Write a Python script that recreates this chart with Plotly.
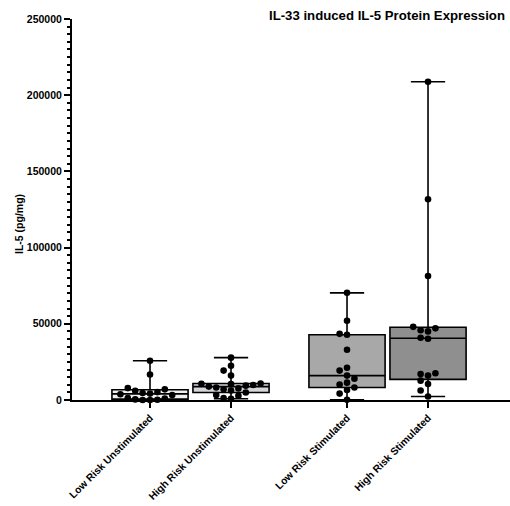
import numpy as np
import plotly.graph_objects as go

# IL-5 protein (pg/mg) per sample, by risk group and stimulation
groups = ["Low Risk Unstimulated", "High Risk Unstimulated",
          "Low Risk Stimulated", "High Risk Stimulated"]

low_risk_unstim = [0, 0, 200, 400, 1000, 1200, 3200, 3800, 4200, 4600,
                   5200, 6000, 7000, 7800, 16700, 25800]
high_risk_unstim = [800, 1200, 2800, 3200, 4900, 6200, 7000, 7600, 8200,
                    8800, 9400, 9800, 10400, 10600, 10800, 16000, 19300,
                    22500, 27800]
low_risk_stim = [200, 4200, 6600, 8200, 10200, 11400, 14000, 16000,
                 19300, 21200, 33000, 42800, 43400, 52000, 70300]
high_risk_stim = [2300, 6200, 10500, 12700, 16000, 17000, 17600, 40200,
                  40800, 45000, 45800, 47000, 48000, 81400, 131700, 208800]

series = [low_risk_unstim, high_risk_unstim, low_risk_stim, high_risk_stim]
fills = ["#f1f1f1", "#d3d5d8", "#a8a8a8", "#8f8f8f"]

# x layout: two pairs of boxes with a wider gap between the pairs
pair_gap = 0.432
positions = [1, 2, 2 + 1 + pair_gap, 3 + 1 + pair_gap]
x_range = [0.037, positions[-1] + 1.012]
y_range = [0, 250000]

W, H = 510, 506
M = dict(l=72, r=0, t=19, b=106)
plot_w = W - M["l"] - M["r"]
plot_h = H - M["t"] - M["b"]
px_x = plot_w / (x_range[1] - x_range[0])
px_y = plot_h / (y_range[1] - y_range[0])


def swarm_offsets(vals, diam=6.4, step=7.4):
    """Spread overlapping points sideways (beeswarm), in x data units."""
    vals = np.asarray(vals, dtype=float)
    order = np.argsort(vals)
    placed = []
    offs = np.zeros(len(vals))
    for i in order:
        y = vals[i] * px_y
        for k in [0, -1, 1, -2, 2, -3, 3, -4, 4, -5, 5]:
            x = k * step
            if all((x - a) ** 2 + (y - b) ** 2 >= diam ** 2 for a, b in placed):
                break
        placed.append((x, y))
        offs[i] = x / px_x
    return offs


fig = go.Figure()

for pos, vals, fill in zip(positions, series, fills):
    v = np.asarray(vals, dtype=float)
    q1, med, q3 = np.quantile(v, [0.25, 0.5, 0.75], method="weibull")
    fig.add_trace(go.Box(
        x=[pos], q1=[q1], median=[med], q3=[q3],
        lowerfence=[v.min()], upperfence=[v.max()],
        width=0.94, whiskerwidth=0.45,
        fillcolor=fill, line=dict(color="black", width=1.6),
        boxpoints=False, hoverinfo="skip", showlegend=False,
    ))

for pos, vals in zip(positions, series):
    offs = swarm_offsets(vals)
    fig.add_trace(go.Scatter(
        x=pos + offs, y=vals, mode="markers",
        marker=dict(color="black", size=6.6, line=dict(width=0)),
        cliponaxis=False, showlegend=False, hoverinfo="skip",
    ))

font_family = "Arial, Liberation Sans, sans-serif"

fig.update_layout(
    width=W, height=H, margin=M,
    paper_bgcolor="white", plot_bgcolor="white",
    font=dict(family=font_family, color="black"),
    xaxis=dict(
        range=x_range, tickmode="array", tickvals=positions, ticktext=groups,
        tickangle=-45, ticks="outside", ticklen=6, tickwidth=2, tickcolor="black",
        showline=True, linewidth=2, linecolor="black",
        showgrid=False, zeroline=False,
        tickfont=dict(size=10.3, family=font_family, weight="bold"),
    ),
    yaxis=dict(
        range=y_range, dtick=50000, tickformat="d",
        ticks="outside", ticklen=6, tickwidth=2, tickcolor="black",
        minor=dict(dtick=5000, ticks="outside", ticklen=3, tickwidth=1.5,
                   tickcolor="black", showgrid=False),
        showline=True, linewidth=2, linecolor="black",
        showgrid=False, zeroline=False,
        tickfont=dict(size=10.5, family=font_family, weight="bold"),
    ),
    annotations=[
        dict(text="<b>IL-33 induced IL-5 Protein Expression</b>",
             xref="paper", yref="paper", x=1, y=1, xanchor="right",
             yanchor="middle", xshift=-3, yshift=4, showarrow=False,
             font=dict(size=13.2, family=font_family)),
        dict(text="<b>IL-5 (pg/mg)</b>", textangle=-90,
             xref="paper", yref="paper", x=(19 - M["l"]) / plot_w,
             y=(H - M["b"] - 224) / plot_h, xanchor="center",
             yanchor="middle", showarrow=False,
             font=dict(size=10.5, family=font_family)),
    ],
)

fig.write_html("out.html")
